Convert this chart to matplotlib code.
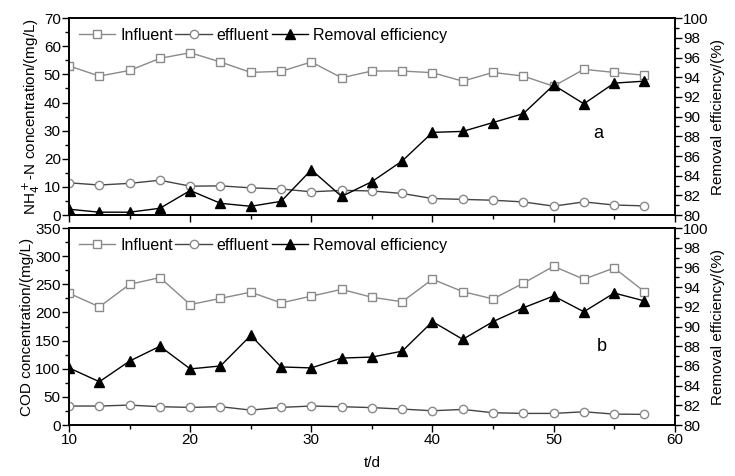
import matplotlib
matplotlib.use("Agg")
import matplotlib.pyplot as plt
from matplotlib.ticker import MultipleLocator

plt.rcParams["font.family"] = ["Liberation Sans", "DejaVu Sans"]
plt.rcParams["font.size"] = 11

# sampling days
days = [10, 12.5, 15, 17.5, 20, 22.5, 25, 27.5, 30, 32.5,
        35, 37.5, 40, 42.5, 45, 47.5, 50, 52.5, 55, 57.5]

# panel a: NH4+-N
nh4_influent = [53.0, 49.4, 51.4, 55.7, 57.7, 54.4, 50.7, 51.1, 54.4, 48.8,
                51.2, 51.2, 50.6, 47.6, 50.7, 49.4, 45.8, 51.8, 50.7, 49.7]
nh4_effluent = [11.5, 10.7, 11.3, 12.4, 10.3, 10.4, 9.7, 9.3, 8.3, 8.8,
                8.6, 7.7, 5.9, 5.6, 5.3, 4.7, 3.2, 4.7, 3.6, 3.3]
nh4_removal = [80.6, 80.3, 80.3, 80.7, 82.5, 81.2, 80.9, 81.4, 84.6, 81.9,
               83.4, 85.5, 88.4, 88.5, 89.4, 90.3, 93.2, 91.3, 93.4, 93.6]

# panel b: COD
cod_influent = [234, 210, 250, 262, 214, 225, 236, 217, 229, 241,
                227, 219, 259, 237, 224, 252, 282, 259, 279, 237]
cod_effluent = [33.8, 33.8, 35.5, 32.6, 31.4, 32.6, 26.6, 31.4, 33.8, 32.6,
                31.0, 28.4, 25.4, 27.8, 21.9, 20.7, 20.7, 23.6, 19.5, 19.0]
cod_removal = [85.8, 84.4, 86.5, 88.0, 85.7, 86.0, 89.1, 85.9, 85.8, 86.8,
               86.9, 87.5, 90.5, 88.7, 90.5, 91.9, 93.1, 91.5, 93.4, 92.6]

INF_C = "#8a8a8a"
EFF_C = "#444444"
REM_C = "black"


def style_axes(ax, ax2, ymax, ymajor, yminor):
    ax.set_xlim(10, 60)
    ax.xaxis.set_major_locator(MultipleLocator(10))
    ax.xaxis.set_minor_locator(MultipleLocator(5))
    ax.set_ylim(0, ymax)
    ax.yaxis.set_major_locator(MultipleLocator(ymajor))
    ax.yaxis.set_minor_locator(MultipleLocator(yminor))
    ax2.set_ylim(80, 100)
    ax2.yaxis.set_major_locator(MultipleLocator(2))
    ax2.yaxis.set_minor_locator(MultipleLocator(1))
    for a in (ax, ax2):
        a.tick_params(which="major", direction="out", length=5, width=1, labelsize=11, pad=1)
        a.tick_params(which="minor", direction="out", length=3, width=1)
        for sp in a.spines.values():
            sp.set_linewidth(1.2)
    ax2.set_ylabel("Removal efficiency/(%)", fontsize=11, labelpad=2)


def draw_panel(ax, inf, eff, rem):
    ax2 = ax.twinx()
    l1, = ax.plot(days, inf, color=INF_C, lw=1, marker="s", ms=6,
                  mfc="white", mec=INF_C, mew=1, label="Influent")
    l2, = ax.plot(days, eff, color=EFF_C, lw=1, marker="o", ms=6,
                  mfc="white", mec=INF_C, mew=1, label="effluent")
    l3, = ax2.plot(days, rem, color=REM_C, lw=1, marker="^", ms=7,
                   mfc=REM_C, mec=REM_C, label="Removal efficiency")
    ax2.legend(handles=[l1, l2, l3], loc="upper left", ncol=3, frameon=False,
               handlelength=2.3, handletextpad=0.3, columnspacing=0.15,
               borderaxespad=0.2, bbox_to_anchor=(0.0, 1.0), fontsize=11.5)
    return ax2


fig = plt.figure(figsize=(7.35, 4.76), dpi=100)
ax_a = fig.add_axes([0.094, 0.548, 0.824, 0.414])
ax_b = fig.add_axes([0.094, 0.107, 0.824, 0.414])

ax_a2 = draw_panel(ax_a, nh4_influent, nh4_effluent, nh4_removal)
style_axes(ax_a, ax_a2, 70, 10, 5)
ax_a.tick_params(axis="x", labelbottom=False)
ax_a.set_ylabel("NH$_4^+$-N concentration/(mg/L)", fontsize=11, labelpad=1)
ax_a.text(53.3, 29, "a", fontsize=13, va="center")

ax_b2 = draw_panel(ax_b, cod_influent, cod_effluent, cod_removal)
style_axes(ax_b, ax_b2, 350, 50, 25)
ax_b.set_ylabel("COD concentration/(mg/L)", fontsize=11, labelpad=1)
ax_b.set_xlabel("t/d", fontsize=11, labelpad=6)
ax_b.text(53.6, 139, "b", fontsize=13, va="center")

fig.savefig("out.png", dpi=100)
